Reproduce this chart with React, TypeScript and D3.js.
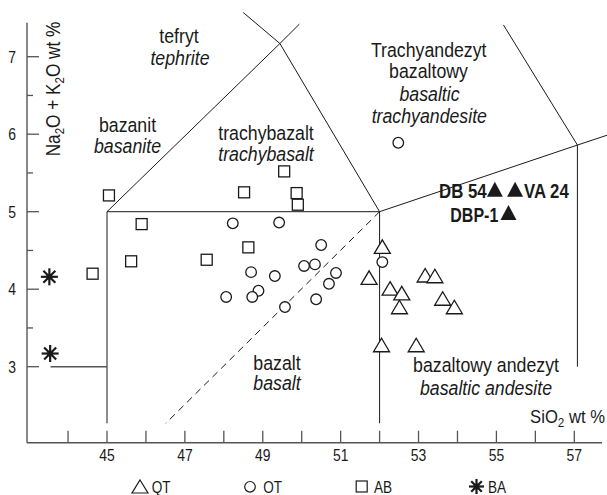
import React from "react";
import * as d3 from "d3";

// ---------- data ----------
const QT: [number, number][] = [
  [52.07, 4.55], [51.73, 4.15], [52.27, 4.01], [52.57, 3.95], [52.51, 3.77],
  [53.17, 4.18], [53.42, 4.17], [53.62, 3.88], [53.92, 3.77], [52.05, 3.28], [52.94, 3.28],
];
const OT: [number, number][] = [
  [48.23, 4.85], [49.42, 4.86], [50.5, 4.57], [48.7, 4.22], [49.31, 4.17], [50.06, 4.3],
  [50.34, 4.32], [50.88, 4.21], [50.7, 4.07], [48.89, 3.98], [48.73, 3.9], [48.06, 3.9],
  [50.37, 3.87], [49.57, 3.77], [52.07, 4.35], [52.48, 5.89],
];
const AB: [number, number][] = [
  [44.63, 4.2], [45.05, 5.21], [45.62, 4.36], [45.89, 4.84], [47.56, 4.38],
  [48.52, 5.25], [48.63, 4.54], [49.55, 5.52], [49.87, 5.24], [49.9, 5.09],
];
const BA: [number, number][] = [[43.52, 4.16], [43.54, 3.17]];
const sampleNames = ["DB 54", "VA 24", "DBP-1"];
const sampleValues: [number, number][] = [[54.96, 5.29], [55.48, 5.29], [55.31, 4.99]];

const xTickLabels = [45, 47, 49, 51, 53, 55, 57];
const xTicks = [44, 45, 46, 47, 48, 49, 50, 51, 52, 53, 54, 55, 56, 57];
const yTickLabels = [3, 4, 5, 6, 7];
const yMinorTicks = [3.5, 4.5, 5.5, 6.5];

// TAS field boundaries (data units)
const solidBoundaries: [number, number][][] = [
  [[45, 2.27], [45, 5], [52, 5]],
  [[45, 5], [49.44, 7.17], [49.94, 7.42]],
  [[48.5, 7.57], [49.44, 7.17], [52, 5]],
  [[52, 2.27], [52, 5], [57.08, 5.86], [57.86, 5.99]],
  [[55.18, 7.41], [57.08, 5.86], [57.08, 3.0]],
];
const picroLine: [number, number][] = [[43.55, 3], [45, 3]];
const dashedBoundary: [number, number][] = [[52, 5], [46.51, 2.27]];

const W = 607, H = 495;
const x = d3.scaleLinear().domain([45, 57]).range([107, 574.3]);
const y = d3.scaleLinear().domain([3, 7]).range([366.7, 56.7]);
const X0 = 27, X1 = 602, Y0 = 442.7, Y1 = 22.7;

const line = d3.line<[number, number]>().x(d => x(d[0])).y(d => y(d[1]));
const INK = "#1a1a1a";
const AX = "#555";
const FONT = "'Liberation Sans', Arial, sans-serif";

function tri(w: number, h: number) {
  return `M0,${-h / 2}L${w / 2},${h / 2}L${-w / 2},${h / 2}Z`;
}

function Star({ cx, cy, r }: { cx: number; cy: number; r: number }) {
  const angs = [0, 45, 90, 135];
  return (
    <g transform={`translate(${cx},${cy})`}>
      {angs.map(a => {
        const t = (a * Math.PI) / 180;
        return (
          <line key={a} x1={-r * Math.cos(t)} y1={-r * Math.sin(t)} x2={r * Math.cos(t)} y2={r * Math.sin(t)}
            stroke={INK} strokeWidth={2.2} />
        );
      })}
      <circle r={3} fill={INK} />
    </g>
  );
}

function CText({ x: tx, y: ty, sx = 1, anchor = "middle", size, weight = "normal", italic = false, children }: any) {
  return (
    <text transform={`translate(${tx},${ty}) scale(${sx},1)`} textAnchor={anchor} fontSize={size}
      fontWeight={weight} fontStyle={italic ? "italic" : "normal"} fill={INK} fontFamily={FONT}>
      {children}
    </text>
  );
}

const regionLabels = [
  { t: "tefryt", x: 179, y: 43, it: false },
  { t: "tephrite", x: 180, y: 65, it: true },
  { t: "bazanit", x: 127.5, y: 131.7, it: false },
  { t: "basanite", x: 127.5, y: 152.7, it: true },
  { t: "trachybazalt", x: 266, y: 140, it: false },
  { t: "trachybasalt", x: 266, y: 161, it: true },
  { t: "Trachyandezyt", x: 428.7, y: 57, it: false },
  { t: "bazaltowy", x: 428.5, y: 78, it: false },
  { t: "basaltic", x: 429.5, y: 101, it: true },
  { t: "trachyandesite", x: 429.3, y: 123, it: true },
  { t: "bazalt", x: 277, y: 370, it: false },
  { t: "basalt", x: 277, y: 390, it: true },
  { t: "bazaltowy andezyt", x: 486, y: 371.5, it: false },
  { t: "basaltic andesite", x: 486, y: 394.5, it: true },
];

export default function App() {
  return (
    <svg width={W} height={H} style={{ position: "absolute", left: 0, top: 0, background: "#fff" }}>
      <rect width={W} height={H} fill="#fff" />
      {/* axes */}
      <line x1={X0} y1={Y0} x2={X1} y2={Y0} stroke={AX} strokeWidth={1.4} />
      <line x1={X0} y1={Y0} x2={X0} y2={Y1} stroke={AX} strokeWidth={1.4} />
      {xTicks.map(t => (
        <line key={t} x1={x(t)} x2={x(t)} y1={Y0} y2={Y0 - 12} stroke={AX} strokeWidth={1.3} />
      ))}
      {xTickLabels.map(t => (
        <CText key={t} x={x(t)} y={460.5} sx={0.82} size={17}>{t}</CText>
      ))}
      {yTickLabels.map(t => (
        <line key={t} x1={X0} x2={X0 + 12} y1={y(t)} y2={y(t)} stroke={AX} strokeWidth={1.3} />
      ))}
      {yMinorTicks.map(t => (
        <line key={t} x1={X0} x2={X0 + 6} y1={y(t)} y2={y(t)} stroke={AX} strokeWidth={1.3} />
      ))}
      {yTickLabels.map(t => (
        <CText key={t} x={16} y={y(t) + 6} sx={0.82} size={17} anchor="end">{t}</CText>
      ))}
      {/* axis titles */}
      <text transform={`translate(60,89) rotate(-90) scale(0.86,1)`} textAnchor="middle" fontSize={20}
        fill={INK} fontFamily={FONT}>
        Na<tspan fontSize={13.5} dy={4}>2</tspan><tspan dy={-4}>O + K</tspan><tspan fontSize={13.5} dy={4}>2</tspan><tspan dy={-4}>O wt %</tspan>
      </text>
      <text transform={`translate(605,423.3) scale(0.9,1)`} textAnchor="end" fontSize={18.5} fill={INK} fontFamily={FONT}>
        SiO<tspan fontSize={13} dy={4}>2</tspan><tspan dy={-4}> wt %</tspan>
      </text>

      {/* boundaries */}
      {solidBoundaries.map((b, i) => (
        <path key={i} d={line(b) || ""} fill="none" stroke={INK} strokeWidth={1} />
      ))}
      <path d={line(picroLine) || ""} fill="none" stroke={AX} strokeWidth={1.4} />
      <path d={line(dashedBoundary) || ""} fill="none" stroke={INK} strokeWidth={1} strokeDasharray="7,5" />

      {/* region labels */}
      {regionLabels.map((r, i) => (
        <CText key={i} x={r.x} y={r.y} size={19.5} sx={0.91} italic={r.it}>{r.t}</CText>
      ))}

      {/* points */}
      {QT.map((d, i) => (
        <path key={i} d={tri(16, 13.5)} transform={`translate(${x(d[0])},${y(d[1])})`} fill="#fff" stroke={INK} strokeWidth={1.3} />
      ))}
      {OT.map((d, i) => (
        <circle key={i} cx={x(d[0])} cy={y(d[1])} r={5.3} fill="#fff" stroke={INK} strokeWidth={1.3} />
      ))}
      {AB.map((d, i) => (
        <rect key={i} x={x(d[0]) - 5.5} y={y(d[1]) - 5.5} width={11} height={11} fill="#fff" stroke={INK} strokeWidth={1.3} />
      ))}
      {BA.map((d, i) => (
        <Star key={i} cx={x(d[0])} cy={y(d[1])} r={8.5} />
      ))}
      {sampleValues.map((d, i) => (
        <path key={i} d={tri(16, 15)} transform={`translate(${x(d[0])},${y(d[1])})`} fill={INK} />
      ))}
      <CText x={486.7} y={198.3} size={20} weight="bold" sx={0.84} anchor="end">{sampleNames[0]}</CText>
      <CText x={524} y={198.3} size={20} weight="bold" sx={0.84} anchor="start">{sampleNames[1]}</CText>
      <CText x={498.3} y={222} size={20} weight="bold" sx={0.8} anchor="end">{sampleNames[2]}</CText>

      {/* legend */}
      <path d={tri(16, 13)} transform="translate(140,486.5)" fill="#fff" stroke={INK} strokeWidth={1.2} />
      <CText x={151.7} y={492.5} size={17} sx={0.8} anchor="start">QT</CText>
      <circle cx={250} cy={486.8} r={5.3} fill="#fff" stroke={INK} strokeWidth={1.2} />
      <CText x={263.3} y={492.5} size={17} sx={0.8} anchor="start">OT</CText>
      <rect x={356.2} y={481} width={11} height={11} fill="#fff" stroke={INK} strokeWidth={1.2} />
      <CText x={374} y={492.5} size={17} sx={0.8} anchor="start">AB</CText>
      <Star cx={476.5} cy={486.5} r={7.5} />
      <CText x={488} y={492.5} size={17} sx={0.8} anchor="start">BA</CText>
    </svg>
  );
}
